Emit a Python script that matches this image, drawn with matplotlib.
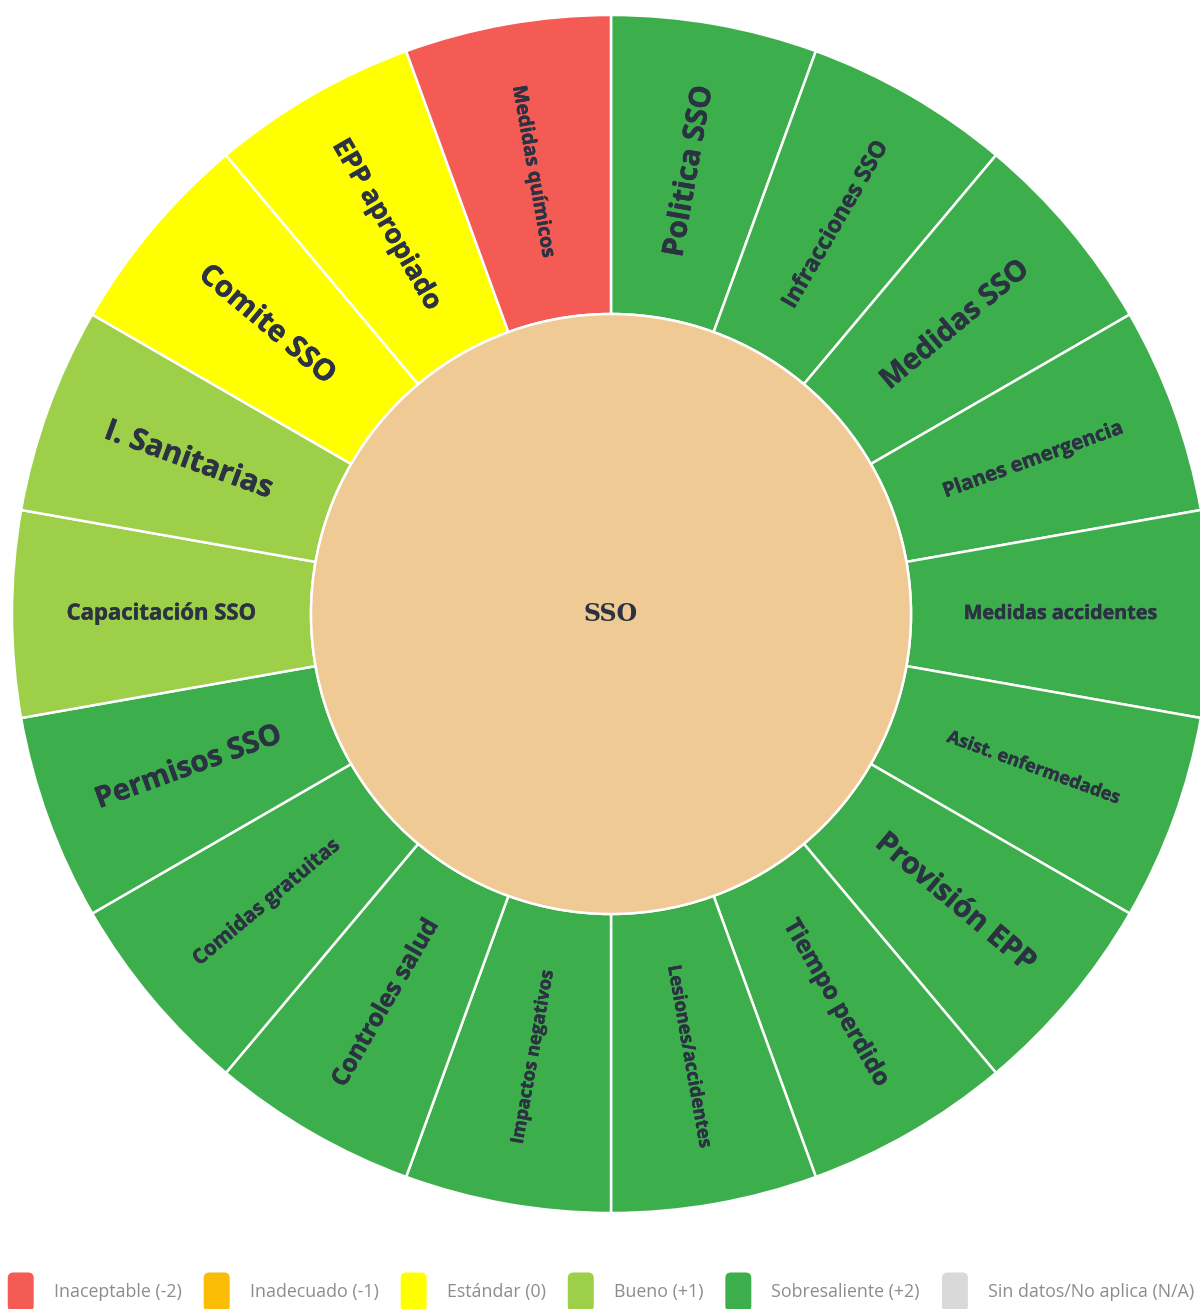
import matplotlib
matplotlib.use('Agg')
import numpy as np
import matplotlib.pyplot as plt
import matplotlib.patheffects as pe
from matplotlib.patches import Patch, FancyBboxPatch
from matplotlib.legend_handler import HandlerPatch
from matplotlib.textpath import TextPath
from matplotlib.font_manager import FontProperties

# sunburst data, clockwise from 12 o'clock
root_label = 'SSO'
labels = ['Politica SSO', 'Infracciones SSO', 'Medidas SSO', 'Planes emergencia',
          'Medidas accidentes', 'Asist. enfermedades', 'Provisión EPP', 'Tiempo perdido',
          'Lesiones/accidentes', 'Impactos negativos', 'Controles salud', 'Comidas gratuitas',
          'Permisos SSO', 'Capacitación SSO', 'I. Sanitarias', 'Comite SSO',
          'EPP apropiado', 'Medidas químicos']
scores = [2, 2, 2, 2, 2, 2, 2, 2, 2, 2, 2, 2, 2, 1, 1, 0, 0, -2]
weights = [1, 1, 1, 1, 1, 1, 1, 1, 1, 1, 1, 1, 1, 1, 1, 1, 1, 1]

legend_scores = [-2, -1, 0, 1, 2, 'NA']
legend_names = ['Inaceptable (-2)', 'Inadecuado (-1)', 'Estándar (0)',
                'Bueno (+1)', 'Sobresaliente (+2)', 'Sin datos/No aplica (N/A)']

score_colors = {-2: '#f45b55', -1: '#fbbc05', 0: '#ffff00', 1: '#9dcf49',
                2: '#3dae4c', 'NA': '#d9d9d9'}
center_color = '#efca95'
text_color = '#2b3242'

# how long (px) each label is drawn inside its segment
label_len = [169, 186, 180, 187, 191, 182, 195, 187, 183, 174, 186, 183,
             192, 187, 173, 165, 189, 172]

W, H = 1200, 1309
fig = plt.figure(figsize=(W / 100, H / 100), dpi=100)
ax = fig.add_axes([0, 0, 1, 1])

cx, cy = 611, H - 614
outer, _ = ax.pie(weights, radius=599, center=(cx, cy), startangle=90, counterclock=False,
                  colors=[score_colors[s] for s in scores],
                  wedgeprops=dict(width=299, edgecolor='white', linewidth=1.8))
ax.pie([1], radius=300, center=(cx, cy), colors=[center_color],
       wedgeprops=dict(edgecolor='white', linewidth=1.8))
ax.set_xlim(0, W)
ax.set_ylim(0, H)
ax.set_aspect('equal')
ax.axis('off')

ax.text(cx, cy, root_label, ha='center', va='center', fontsize=17,
        fontfamily='DejaVu Serif', fontweight='bold', color=text_color)

# fit the label text inside each ring segment
fp = FontProperties(family='Open Sans', weight='bold')
heavy = [pe.withStroke(linewidth=0.3, foreground=text_color)]
for w, lab, ln in zip(outer, labels, label_len):
    mid = (w.theta1 + w.theta2) / 2
    rm = w.r - w.width / 2
    x = w.center[0] + rm * np.cos(np.radians(mid))
    y = w.center[1] + rm * np.sin(np.radians(mid))
    ang = mid % 360
    rot = ang - 180 if 90 < ang < 270 else (ang - 360 if ang >= 270 else ang)
    unit_w = TextPath((0, 0), lab, size=1, prop=fp).get_extents().width
    size = min(22, ln * 0.72 / unit_w)
    ax.text(x, y, lab, ha='center', va='center', rotation=rot, rotation_mode='anchor',
            fontsize=size, fontfamily='Open Sans', fontweight='bold', color=text_color,
            path_effects=heavy)


class RoundBox(HandlerPatch):
    def create_artists(self, legend, orig_handle, xdescent, ydescent, width, height,
                       fontsize, trans):
        p = FancyBboxPatch((-xdescent, -ydescent), width, height,
                           boxstyle='round,pad=0,rounding_size=4',
                           facecolor=orig_handle.get_facecolor(), edgecolor='none',
                           transform=trans)
        return [p]


handles = [Patch(facecolor=score_colors[s]) for s in legend_scores]
fig.legend(handles, legend_names, loc='center', bbox_to_anchor=(601 / W, 17 / H),
           ncol=6, frameon=False, prop=FontProperties(family='Open Sans', size=12.8),
           labelcolor='#8c8c8c', handlelength=1.46, handleheight=3.0,
           handletextpad=1.13, columnspacing=1.24, borderpad=0,
           handler_map={Patch: RoundBox()})

fig.savefig('out.png', dpi=100)
